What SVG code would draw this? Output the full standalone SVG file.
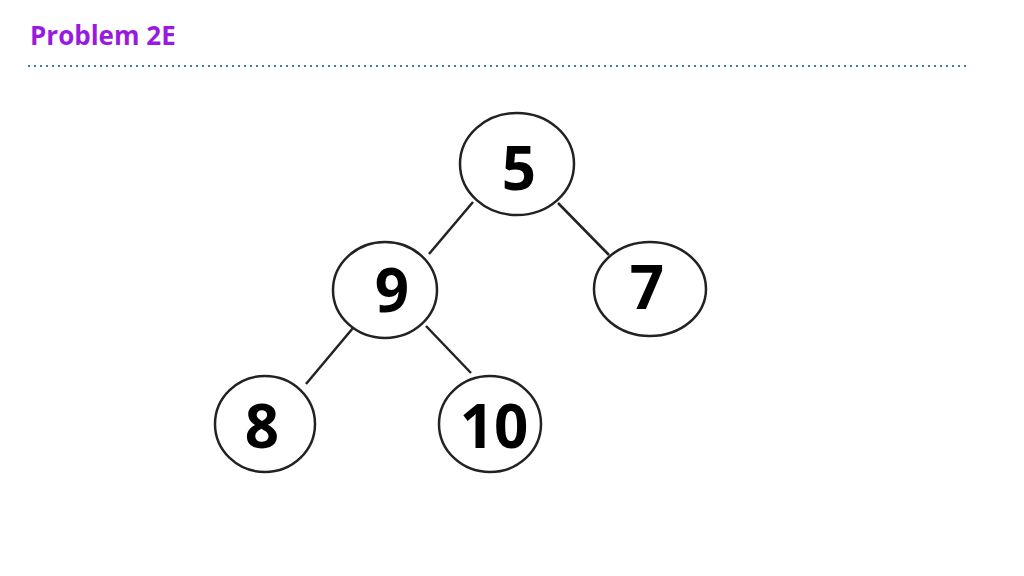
<svg xmlns="http://www.w3.org/2000/svg" width="1024" height="576" viewBox="0 0 1024 576">
<style>
.n{fill:#fff;stroke:#222;stroke-width:2.5}
.t{font-family:"Open Sans","Liberation Sans",sans-serif;font-weight:bold;font-size:60px;fill:#000;text-anchor:middle}
.c line{stroke:#222;stroke-width:2.5}
</style>
<rect width="1024" height="576" fill="#fff"/>
<text x="30" y="45" font-family="Open Sans, Liberation Sans, sans-serif" font-weight="bold" font-size="26" fill="#9a1be0">Problem 2E</text>
<line x1="28" y1="66" x2="968" y2="66" stroke="#3a7fa0" stroke-width="2" stroke-dasharray="2,4"/>
<g class="c">
<line x1="473" y1="202" x2="429" y2="254"/>
<line x1="558" y1="203" x2="609" y2="255"/>
<line x1="353" y1="328" x2="306" y2="384"/>
<line x1="426" y1="326" x2="471" y2="373"/>
</g>
<g id="n5"><ellipse class="n" cx="517" cy="164" rx="57" ry="51"/><text class="t" x="519" y="190">5</text></g>
<g id="n9"><ellipse class="n" cx="385" cy="290" rx="52" ry="48"/><text class="t" x="392" y="312">9</text></g>
<g id="n7"><ellipse class="n" cx="650" cy="289" rx="56" ry="47"/><text class="t" x="647" y="309">7</text></g>
<g id="n8"><ellipse class="n" cx="265" cy="424" rx="50" ry="48"/><text class="t" x="262" y="448">8</text></g>
<g id="n10"><ellipse class="n" cx="490" cy="424" rx="51" ry="48"/><text class="t" x="494" y="448">10</text></g>
</svg>
